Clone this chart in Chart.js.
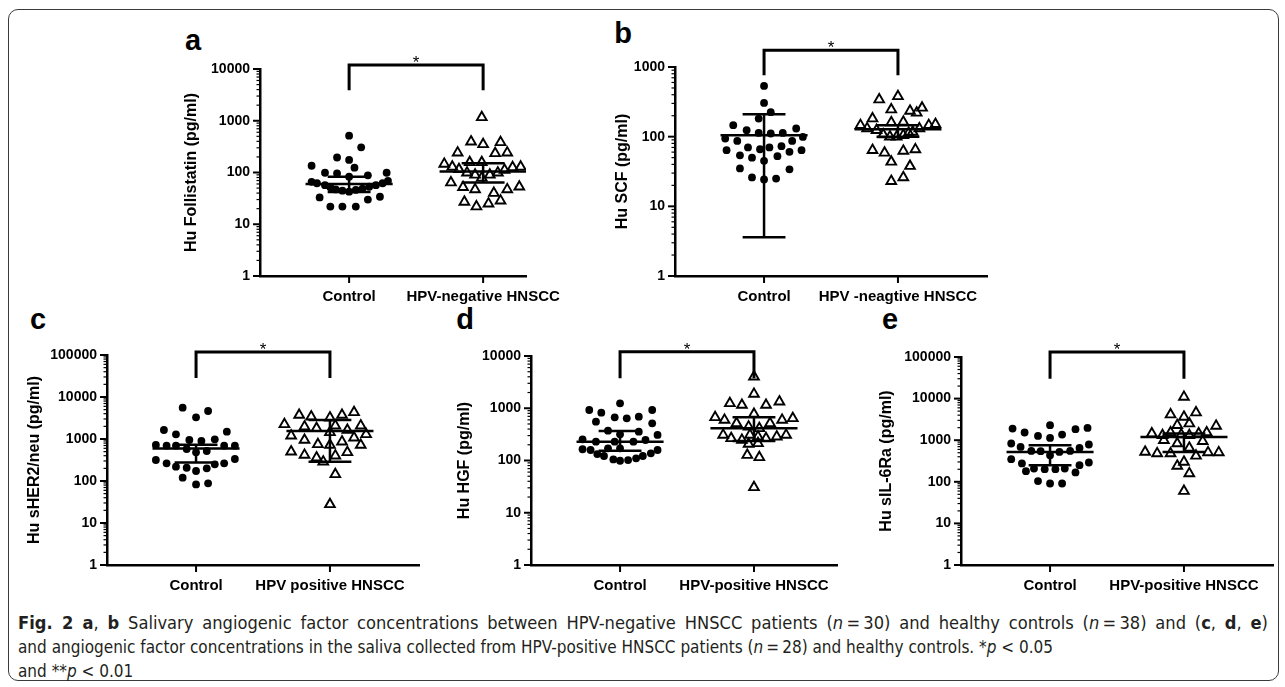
<!DOCTYPE html>
<html>
<head>
<meta charset="utf-8">
<script src="https://cdn.jsdelivr.net/npm/chart.js@4.4.1/dist/chart.umd.min.js"></script>
<style>
  html, body { margin: 0; padding: 0; background: #fff; }
  body { width: 1285px; height: 687px; position: relative; overflow: hidden; font-family: "Liberation Sans", Arial, sans-serif; }
  .frame { position: absolute; left: 8px; top: 9px; width: 1271px; height: 672px; border: 1.5px solid #3a3a3a; border-radius: 10px; box-sizing: border-box; }
  canvas { position: absolute; }
  .letter { position: absolute; font: bold 29px "Liberation Sans", Arial, sans-serif; transform: translate(-50%, -50%); line-height: 1; }
  .caption { position: absolute; left: 18px; top: 611px; font-family: "Liberation Sans Narrow", "DejaVu Sans Condensed", "DejaVu Sans", sans-serif; font-size: 18px; line-height: 24px; color: #231f20; }
  .caption .ln { white-space: nowrap; width: max-content; transform-origin: 0 0; }
</style>
</head>
<body>
<div class="frame"></div>
<div class="letter" style="left:193px;top:40px">a</div>
<div class="letter" style="left:623px;top:33px">b</div>
<div class="letter" style="left:38px;top:319px">c</div>
<div class="letter" style="left:465px;top:319px">d</div>
<div class="letter" style="left:890px;top:319px">e</div>
<div class="caption">
  <div class="ln"><b>Fig. 2 a</b>, <b>b</b> Salivary angiogenic factor concentrations between HPV-negative HNSCC patients (<i>n</i>&thinsp;=&thinsp;30) and healthy controls (<i>n</i>&thinsp;=&thinsp;38) and (<b>c</b>, <b>d</b>, <b>e</b>)</div>
  <div class="ln">and angiogenic factor concentrations in the saliva collected from HPV-positive HNSCC patients (<i>n</i>&thinsp;=&thinsp;28) and healthy controls. *<i>p</i> &lt; 0.05</div>
  <div class="ln">and **<i>p</i> &lt; 0.01</div>
</div>
<script>
// ---- panel a: Follistatin ----
const yTicksA = [1, 10, 100, 1000, 10000];
const catsA = ['Control', 'HPV-negative HNSCC'];
const ctrlA = [514, 307, 195, 175, 124, 135, 99, 96, 88, 99, 83, 66, 62, 57, 52, 47, 44.5, 42.6, 46, 49, 53, 57, 62, 69, 33, 22, 22, 22, 30, 34];
const ctrlSpreadA = [0, 0.09, -0.09, 0, 0.04, -0.28, -0.18, -0.09, 0.14, 0.28, 0, -0.28, -0.24, -0.18, -0.14, -0.10, -0.05, 0, 0.05, 0.10, 0.15, 0.20, 0.25, 0.29, -0.22, -0.14, -0.05, 0.05, 0.14, 0.23];
const hpvA = [1166, 394, 351, 383, 241, 235, 241, 146, 129, 157, 157, 126, 129, 115, 99, 90, 79, 90, 99, 112, 64, 52, 47, 40, 47, 53, 27, 22, 25, 28.5];
const hpvSpreadA = [-0.01, -0.09, 0, 0.13, -0.19, 0.09, 0.18, -0.29, -0.23, -0.10, -0.01, 0.22, 0.28, -0.18, -0.12, -0.06, -0.01, 0.05, 0.11, 0.16, -0.24, -0.15, -0.06, 0.08, 0.18, 0.27, -0.14, -0.05, 0.04, 0.13];
const ctrlStatA = [60, 42, 83];   // centre, low, high
const hpvStatA = [104, 64, 151];
const bracketA = [3900, 12000];   // leg end, top

// ---- panel b: SCF ----
const yTicksB = [1, 10, 100, 1000];
const catsB = ['Control', 'HPV -neagtive HNSCC'];
const ctrlB = [535, 305, 225, 182, 146, 124, 131, 113, 111, 113, 94, 99, 87, 87, 64, 64, 70, 66, 70, 73, 60.5, 54, 50, 45, 52.5, 35, 34, 26, 24.3, 25];
const ctrlSpreadB = [0, 0, 0.05, -0.04, -0.23, -0.13, 0.24, -0.04, 0.05, 0.14, -0.29, 0.29, -0.20, 0.21, -0.28, 0.28, -0.12, -0.03, 0.04, 0.13, 0.19, -0.18, -0.09, 0, 0.10, -0.18, 0.19, -0.09, 0, 0.09];
const hpvB = [341, 380, 245, 234, 220, 259, 182, 146, 131, 160, 163, 146, 151, 131, 117, 124, 107, 100, 100, 105, 113, 64, 58.6, 62.5, 65.5, 43.5, 37.8, 23, 26];
const hpvSpreadB = [-0.14, 0, -0.05, 0.09, 0.14, 0.18, -0.19, -0.28, -0.23, -0.05, 0.04, 0.23, 0.28, 0.16, 0.11, -0.16, -0.11, -0.06, -0.01, 0.04, 0.08, -0.19, -0.10, 0.04, 0.13, -0.05, 0.09, -0.05, 0.04];
const ctrlStatB = [105, 3.6, 210];
const hpvStatB = [128, 100, 146];
const bracketB = [760, 1740];

// ---- panel c: sHER2/neu ----
const yTicksC = [1, 10, 100, 1000, 10000, 100000];
const catsC = ['Control', 'HPV positive HNSCC'];
const ctrlC = [5560, 3283, 4640, 1637, 1291, 1495, 719, 692, 692, 946, 896, 982, 692, 692, 578, 482, 518, 316, 264, 264, 334, 219, 207, 173, 200, 250, 120, 83, 88];
const ctrlSpreadC = [-0.10, 0, 0.09, -0.24, -0.15, 0.23, -0.30, -0.22, -0.15, -0.05, 0.04, 0.14, 0.21, 0.29, -0.07, 0, 0.08, -0.30, -0.22, 0.21, 0.29, -0.15, -0.07, 0, 0.08, 0.14, -0.10, 0, 0.09];
const hpvC = [3726, 3400, 3220, 3726, 4318, 2239, 1967, 1795, 2074, 1637, 2074, 1291, 1199, 1443, 1076, 946, 864, 747, 719, 719, 499, 416, 359, 288, 401, 482, 144, 27.8];
const hpvSpreadC = [-0.23, -0.14, 0, 0.09, 0.18, -0.34, -0.19, -0.10, 0.04, 0.13, 0.23, 0.27, -0.29, 0, 0.18, -0.19, 0.09, -0.09, 0, 0.23, -0.29, -0.19, -0.10, -0.05, 0.04, 0.13, 0.04, 0];
const ctrlStatC = [590, 275, 730];
const hpvStatC = [1550, 288, 2833];
const bracketC = [28300, 118000];

// ---- panel d: HGF ----
const yTicksD = [1, 10, 100, 1000, 10000];
const catsD = ['Control', 'HPV-positive HNSCC'];
const ctrlD = [1244, 926, 822, 926, 671, 642, 689, 553, 515, 372, 317, 356, 308, 254, 229, 229, 229, 247, 164, 159, 171, 171, 159, 133, 122, 105, 99, 102, 110, 122, 137];
const ctrlSpreadD = [0, -0.23, -0.14, 0.24, -0.04, 0.05, 0.14, -0.18, 0.24, -0.09, 0, 0.14, 0.28, -0.28, -0.18, -0.04, 0.10, 0.19, -0.28, -0.22, -0.09, 0, 0.28, -0.17, -0.12, -0.05, 0, 0.06, 0.12, 0.17, 0.23];
const hpvD = [4018, 1875, 1244, 1153, 1153, 1337, 776, 671, 596, 515, 515, 596, 642, 443, 413, 308, 266, 247, 308, 286, 266, 286, 308, 207, 213, 127, 115, 30.7];
const hpvSpreadD = [0, 0, -0.18, -0.09, 0.09, 0.19, 0, -0.29, -0.22, -0.13, 0.12, 0.21, 0.29, -0.04, 0.04, -0.23, -0.17, -0.09, -0.03, 0.03, 0.09, 0.17, 0.24, -0.04, 0.03, -0.05, 0.04, 0];
const ctrlStatD = [229, 154, 367];
const hpvStatD = [413, 236, 671];
const bracketD = [3744, 12080];

// ---- panel e: sIL-6Ra ----
const yTicksE = [1, 10, 100, 1000, 10000, 100000];
const catsE = ['Control', 'HPV-positive HNSCC'];
const ctrlE = [2291, 1906, 1530, 1268, 1135, 1368, 1836, 1972, 833, 690, 653, 789, 553, 544, 436, 524, 553, 350, 276, 251, 291, 180, 209, 201, 201, 209, 168, 104, 91, 91];
const ctrlSpreadE = [0, -0.28, -0.19, -0.09, 0, 0.09, 0.19, 0.28, -0.29, -0.22, 0.22, 0.29, -0.14, -0.07, 0, 0.07, 0.15, -0.29, -0.21, 0.22, 0.29, -0.18, -0.12, -0.04, 0.04, 0.11, 0.19, -0.09, 0, 0.09];
const hpvE = [10940, 4130, 3622, 4617, 2291, 2512, 2203, 1445, 1318, 1530, 1368, 1318, 1445, 1530, 1000, 833, 946, 524, 479, 479, 653, 420, 507, 507, 241, 301, 159, 60];
const hpvSpreadE = [0, -0.10, 0, 0.09, -0.05, 0.04, 0.24, -0.24, -0.16, -0.10, -0.02, 0.04, 0.11, 0.17, -0.15, -0.05, 0.14, -0.29, -0.20, -0.10, 0.04, 0.09, 0.18, 0.26, -0.05, 0, 0.04, 0];
const ctrlStatE = [524, 251, 759];
const hpvStatE = [1199, 524, 1450];
const bracketE = [30200, 131000];

const FONT = '"Liberation Sans", Arial, Helvetica, sans-serif';
Chart.defaults.font.family = FONT;
Chart.defaults.color = '#000';

// layout of each plot area on the page
const panels = [
  { left: 260, top: 69, bottom: 276, xMax: 2.32, titleGap: 68, yTitle: 'Hu Follistatin (pg/ml)',
    ticks: yTicksA, cats: catsA, ctrl: ctrlA, ctrlX: ctrlSpreadA, hpv: hpvA, hpvX: hpvSpreadA, ctrlStat: ctrlStatA, hpvStat: hpvStatA, bracket: bracketA },
  { left: 675, top: 67, bottom: 276, xMax: 2.665, titleGap: 52, yTitle: 'Hu SCF (pg/ml)',
    ticks: yTicksB, cats: catsB, ctrl: ctrlB, ctrlX: ctrlSpreadB, hpv: hpvB, hpvX: hpvSpreadB, ctrlStat: ctrlStatB, hpvStat: hpvStatB, bracket: bracketB },
  { left: 107, top: 355, bottom: 565, xMax: 2.665, titleGap: 72, yTitle: 'Hu sHER2/neu (pg/ml)',
    ticks: yTicksC, cats: catsC, ctrl: ctrlC, ctrlX: ctrlSpreadC, hpv: hpvC, hpvX: hpvSpreadC, ctrlStat: ctrlStatC, hpvStat: hpvStatC, bracket: bracketC },
  { left: 531, top: 356, bottom: 565, xMax: 2.62, titleGap: 66, yTitle: 'Hu HGF (pg/ml)',
    ticks: yTicksD, cats: catsD, ctrl: ctrlD, ctrlX: ctrlSpreadD, hpv: hpvD, hpvX: hpvSpreadD, ctrlStat: ctrlStatD, hpvStat: hpvStatD, bracket: bracketD },
  { left: 961, top: 357, bottom: 565, xMax: 2.665, titleGap: 74, yTitle: 'Hu sIL-6Ra (pg/ml)',
    ticks: yTicksE, cats: catsE, ctrl: ctrlE, ctrlX: ctrlSpreadE, hpv: hpvE, hpvX: hpvSpreadE, ctrlStat: ctrlStatE, hpvStat: hpvStatE, bracket: bracketE }
];

const X_MIN = 0.335, CAT_PX = 134;
const PAD = { top: 44, right: 90, bottom: 2, left: 2 };
const X_AXIS_H = 40;

// mean/median line with error caps, broken by null points
function statLine(c, s) {
  const [mid, lo, hi] = s;
  return [
    { x: c - 0.325, y: mid }, { x: c + 0.325, y: mid }, { x: c, y: null },
    { x: c - 0.16, y: hi }, { x: c + 0.16, y: hi }, { x: c, y: null },
    { x: c - 0.16, y: lo }, { x: c + 0.16, y: lo }, { x: c, y: null },
    { x: c, y: hi }, { x: c, y: lo }
  ];
}

// log tick marks, category tick marks and the significance star
const axisMarks = {
  id: 'axisMarks',
  afterDraw(chart, args, opts) {
    const { ctx, scales: { x, y }, chartArea } = chart;
    ctx.save();
    ctx.strokeStyle = '#000';
    const e0 = Math.round(Math.log10(y.min)), e1 = Math.round(Math.log10(y.max));
    for (let e = e0; e <= e1; e++) {
      for (let k = 1; k < 10; k++) {
        if (e === e1 && k > 1) break;
        const py = y.getPixelForValue(k * Math.pow(10, e));
        const len = k === 1 ? 7 : 3.5;
        ctx.lineWidth = k === 1 ? 2 : 1.2;
        ctx.beginPath();
        ctx.moveTo(chartArea.left, py);
        ctx.lineTo(chartArea.left - len, py);
        ctx.stroke();
      }
    }
    ctx.lineWidth = 2;
    [1, 2].forEach(v => {
      const px = x.getPixelForValue(v);
      ctx.beginPath();
      ctx.moveTo(px, chartArea.bottom);
      ctx.lineTo(px, chartArea.bottom + 7);
      ctx.stroke();
    });
    const sx = (x.getPixelForValue(1) + x.getPixelForValue(2)) / 2;
    const sy = y.getPixelForValue(opts.top);
    ctx.fillStyle = '#000';
    ctx.font = '17px ' + FONT;
    ctx.textAlign = 'center';
    ctx.textBaseline = 'alphabetic';
    ctx.fillText('*', sx, sy + 3);
    ctx.restore();
  }
};

panels.forEach(p => {
  const yW = Math.round(p.titleGap + 9.6);
  const areaW = Math.round((p.xMax - X_MIN) * CAT_PX);
  const cv = document.createElement('canvas');
  cv.width = PAD.left + yW + areaW + PAD.right;
  cv.height = PAD.top + (p.bottom - p.top) + X_AXIS_H + PAD.bottom;
  cv.style.left = (p.left - yW - PAD.left) + 'px';
  cv.style.top = (p.top - PAD.top) + 'px';
  document.body.appendChild(cv);

  new Chart(cv.getContext('2d'), {
    type: 'scatter',
    data: {
      datasets: [
        { data: statLine(1, p.ctrlStat), showLine: true, borderColor: '#000', borderWidth: 2.5, pointRadius: 0, borderCapStyle: 'butt' },
        { data: statLine(2, p.hpvStat), showLine: true, borderColor: '#000', borderWidth: 2.5, pointRadius: 0, borderCapStyle: 'butt' },
        { data: [{ x: 1, y: p.bracket[0] }, { x: 1, y: p.bracket[1] }, { x: 2, y: p.bracket[1] }, { x: 2, y: p.bracket[0] }],
          showLine: true, borderColor: '#000', borderWidth: 3, pointRadius: 0, clip: false, borderJoinStyle: 'miter', borderCapStyle: 'butt' },
        { data: p.ctrl.map((v, i) => ({ x: 1 + p.ctrlX[i], y: v })), pointStyle: 'circle', pointRadius: 3.9,
          backgroundColor: '#000', borderColor: '#000', borderWidth: 0 },
        { data: p.hpv.map((v, i) => ({ x: 2 + p.hpvX[i], y: v })), pointStyle: 'triangle', pointRadius: 5.6,
          backgroundColor: 'rgba(255,255,255,0)', borderColor: '#000', borderWidth: 1.9 }
      ]
    },
    options: {
      responsive: false,
      animation: false,
      devicePixelRatio: 1,
      layout: { padding: PAD },
      plugins: { legend: { display: false }, tooltip: { enabled: false }, axisMarks: { top: p.bracket[1] } },
      scales: {
        x: {
          type: 'linear', min: X_MIN, max: p.xMax,
          afterBuildTicks: s => { s.ticks = [{ value: 1 }, { value: 2 }]; },
          afterFit: s => { s.height = X_AXIS_H; },
          border: { display: true, color: '#000', width: 2.5 },
          grid: { display: false, drawTicks: false },
          ticks: { color: '#000', autoSkip: false, maxRotation: 0, padding: 12,
                   font: { size: 15, weight: 'bold' }, callback: (v, i) => p.cats[i] }
        },
        y: {
          type: 'logarithmic', min: p.ticks[0], max: p.ticks[p.ticks.length - 1],
          afterBuildTicks: s => { s.ticks = p.ticks.map(v => ({ value: v, major: true })); },
          afterFit: s => { s.width = yW; },
          border: { display: true, color: '#000', width: 2.5 },
          grid: { display: false, drawTicks: false },
          ticks: { color: '#000', padding: 10, font: { size: 14, weight: 'bold' }, callback: v => String(v) },
          title: { display: true, text: p.yTitle, color: '#000', padding: { top: 0, bottom: 0 },
                   font: { size: 16, weight: 'bold' } }
        }
      }
    },
    plugins: [axisMarks]
  });
});

// caption: condense to the original measure; first line justified to full width
const lines = [...document.querySelectorAll('.caption .ln')];
const natural = lines.map(l => l.getBoundingClientRect().width);
const sc = 1035 / natural[1];
const sc1 = (sc + 1250 / natural[0]) / 2;
lines.forEach((l, i) => { l.style.transform = 'scaleX(' + (i === 0 ? sc1 : sc) + ')'; });
const gaps = (lines[0].textContent.trim().match(/ /g) || []).length;
lines[0].style.wordSpacing = ((1250 / sc1 - natural[0]) / gaps) + 'px';
</script>
</body>
</html>
